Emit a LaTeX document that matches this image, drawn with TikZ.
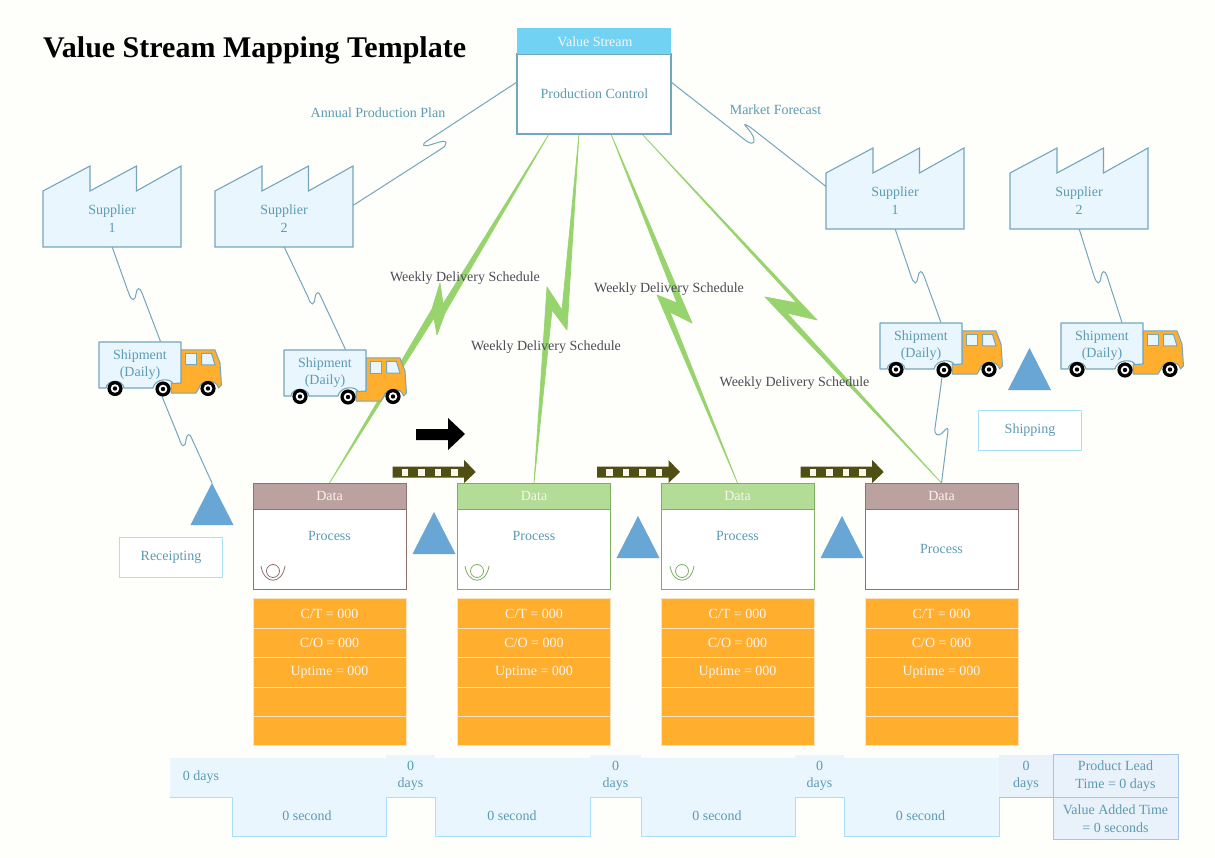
\documentclass[tikz,border=0pt]{standalone}
\usepackage{fontspec}
\setmainfont{Liberation Serif}
\usetikzlibrary{calc,backgrounds}
\definecolor{pagebg}{HTML}{FEFEFA}
\definecolor{txtblue}{HTML}{5C9BB3}
\definecolor{linkblue}{HTML}{74A6BC}
\definecolor{palefill}{HTML}{EAF6FE}
\definecolor{palestroke}{HTML}{A9E0F6}
\definecolor{boltgreen}{HTML}{98D46E}
\definecolor{orangefill}{HTML}{FFAE2E}
\definecolor{orangeline}{HTML}{FFE3C0}
\definecolor{trigblue}{HTML}{68A6D5}
\definecolor{olive}{HTML}{4F4F14}
\definecolor{brownhead}{HTML}{BCA1A1}
\definecolor{brownline}{HTML}{8E7272}
\definecolor{greenhead}{HTML}{B3DC97}
\definecolor{greenline}{HTML}{7FAE60}
\definecolor{sumfill}{HTML}{E9F1FA}
\definecolor{sumline}{HTML}{A5C5E5}
\definecolor{softwhite}{HTML}{FBF5EE}
\definecolor{darklabel}{HTML}{4C4C58}
\tikzset{
  every node/.style={font=\fontsize{14}{17.5}\selectfont,inner sep=0pt,outer sep=0pt,align=center,text=txtblue},
  link/.style={draw=linkblue,line width=1pt},
  bolt/.style={fill=boltgreen,draw=boltgreen,line width=.7pt,line join=round},
  plainbox/.style={draw=palestroke,line width=1pt,fill=white,minimum width=103,minimum height=40},
  factoryshape/.style={fill=palefill,draw=linkblue,line width=1.1pt,line join=miter},
  truckbox/.style={fill=palefill,draw=linkblue,line width=1.1pt,line join=round},
  truckcab/.style={fill=orangefill,draw=linkblue,line width=1pt,line join=round},
  truckwin/.style={fill=palefill,draw=linkblue,line width=1pt},
  cell/.style={fill=orangefill,draw=orangeline,line width=.9pt,minimum width=153,minimum height=29.4,text=softwhite},
  tlblock/.style={fill=palefill,draw=none},
  stepline/.style={draw=palestroke,line width=1pt},
  sumbox/.style={fill=sumfill,draw=sumline,line width=1pt,minimum width=125,minimum height=42.5},
  weekly/.style={text=darklabel},
  tricolor/.style={fill=trigblue},
  oliveshape/.style={fill=olive},
}
% factory: name, left x, shoulder-top y, label
\newcommand\vsmFactory[4]{%
  \begin{scope}[shift={(#2,#3)}]
    \filldraw[factoryshape] (0,25) -- (47,0) -- (47,25) -- (93.5,0) -- (93.5,25) -- (138,0) -- (138,81) -- (0,81) -- cycle;
    \node[minimum width=138,minimum height=56] (#1) at (69,52.5) {#4};
  \end{scope}}
% truck: name, x, y
\newcommand\vsmTruck[3]{%
  \begin{scope}[shift={(#2,#3)}]
    \filldraw[truckcab] (82,8) -- (116,8) -- (121,21) -- (122.5,43) -- (119.5,46)
       .. controls (118,37) and (102,37) .. (100,46) -- (97,51) -- (72,51) -- (72,41) -- (82,41) -- cycle;
    \filldraw[truckwin] (86,11.5) rectangle (97.5,23);
    \filldraw[truckwin] (102.5,11.5) -- (112.5,11.5) -- (116,23) -- (102.5,23) -- cycle;
    \filldraw[truckbox] (0,0) -- (82,0) -- (82,41) -- (74,41.5) .. controls (72,36) and (56,36) .. (54,46)
       -- (25,46) .. controls (24,37) and (8,37) .. (7,46) -- (0,46) -- cycle;
    \node[minimum width=82,minimum height=46] (#1) at (41,22.5) {Shipment\\(Daily)};
    \foreach \wx/\wy in {16/46.5,64/47,109/46.5}{
      \fill[black] (\wx,\wy) circle[radius=7.6pt];
      \fill[white] (\wx,\wy) circle[radius=4.3pt];
      \fill[black] (\wx,\wy) circle[radius=2.2pt];
    }
  \end{scope}}
% process: index, left x, head colour, line colour, process text y
\newcommand\vsmProcess[5]{%
  \node[fill=#3,draw=#4,line width=1pt,minimum width=153,minimum height=26,text=softwhite] (d#1) at (#2+76.5,496) {Data};
  \node[fill=white,draw=#4,line width=1pt,minimum width=153,minimum height=80] (p#1) at (#2+76.5,549) {};
  \node (pt#1) at (#2+76.5,#5) {Process};
  \node[cell] (ca#1) at (#2+76.5,613.5) {C/T = 000};
  \node[cell] (cb#1) at (#2+76.5,643) {C/O = 000};
  \node[cell] (cc#1) at (#2+76.5,672.5) {Uptime = 000};
  \node[cell] (cd#1) at (#2+76.5,702) {};
  \node[cell] (ce#1) at (#2+76.5,731) {};}
% operator icon
\newcommand\vsmOperator[2]{%
  \draw[draw=#2,line width=.8pt] (#1,571) circle[radius=6.5pt];
  \draw[draw=#2,line width=.8pt] (#1-12,566) .. controls (#1-9,585) and (#1+9,585) .. (#1+12,566);}
% triangle: name, apex x, apex y
\newcommand\vsmTri[3]{%
  \coordinate (#1) at (#2,#3);
  \fill[tricolor] (#1) -- ++(-21.5,42) -- ++(43,0) -- cycle;}
% striped push arrow: left x
\newcommand\vsmPush[1]{%
  \begin{scope}[shift={(#1,0)}]
    \fill[oliveshape] (0,466.7) -- (71.5,466.7) -- (71.5,460) -- (83,472) -- (71.5,483) -- (71.5,477.7) -- (0,477.7) -- cycle;
    \foreach \sx in {9,25.5,42,58.5}{\fill[softwhite] (\sx,468.5) rectangle (\sx+6.5,476);}
  \end{scope}}
\begin{document}
\begin{tikzpicture}[x=1pt,y=-1pt]
\useasboundingbox (0,0) rectangle (1215,858);
\begin{scope}[on background layer]
  \fill[pagebg] (0,0) rectangle (1215,858);
\end{scope}

\node[anchor=west,text=black,font=\bfseries\fontsize{30}{36}\selectfont] (title) at (43,50) {Value Stream Mapping Template};

% production control
\node[fill=white,draw=linkblue,line width=1.1pt,minimum width=154,minimum height=80] (pc) at (594,94) {};
\node[fill=white,fill opacity=0,text opacity=1] (pctext) at (594.5,93.5) {Production Control};
\node[fill=palestroke!40!cyan!50!blue!0,fill=white!0,minimum width=0] at (594,41) {} ;
\fill[color={rgb,255:red,114;green,210;blue,244}] (517,28) rectangle (671,54);
\node[text=softwhite] (vs) at (595,41.5) {Value Stream};

% factories
\vsmFactory{supa}{43}{166}{Supplier\\1}
\vsmFactory{supb}{215}{166}{Supplier\\2}
\vsmFactory{supc}{826}{148}{Supplier\\1}
\vsmFactory{supd}{1010}{148}{Supplier\\2}

% trucks
\vsmTruck{ta}{99}{342}
\vsmTruck{tb}{284}{350}
\vsmTruck{tc}{880}{323}
\vsmTruck{td}{1061}{323}

% processes
\vsmProcess{1}{253}{brownhead}{brownline}{536}
\vsmProcess{2}{457.5}{greenhead}{greenline}{536}
\vsmProcess{3}{661}{greenhead}{greenline}{536}
\vsmProcess{4}{865}{brownhead}{brownline}{549}
\vsmOperator{273}{brownline}
\vsmOperator{477}{greenline}
\vsmOperator{682}{greenline}

% triangles
\vsmTri{tra}{212}{483}
\vsmTri{trb}{434}{512}
\vsmTri{trc}{638}{516}
\vsmTri{trd}{842}{516}
\vsmTri{tre}{1029.5}{348}

\node[plainbox] (recv) at (171,557) {Receipting};
\node[plainbox] (ship) at (1030,430.5) {Shipping};

% connectors and bolts behind the shapes
\begin{scope}[on background layer]
  \filldraw[bolt] ($(pc.south)+(-45,0)$) -- (445,313) -- (437,335) -- (434,318) -- (d1.north) -- (432,309) -- (440,283) -- (443,304) -- cycle;
  \filldraw[bolt] ($(pc.south)+(-15,0)$) -- (567,330) -- (552,310) -- (d2.north) -- (547,287) -- (562,310) -- cycle;
  \filldraw[bolt] ($(pc.south)+(17,0)$) -- (692,323) -- (670,312) -- (d3.north) -- (657,295) -- (677,303) -- cycle;
  \filldraw[bolt] ($(pc.south)+(48,0)$) -- (817,320) -- (787,313) -- (d4.north) -- (765,297) -- (797,303) -- cycle;

  \draw[link] (supa.south) -- (129,294) .. controls (132,302) and (135,301) .. (136,294) .. controls (137,287) and (140,287) .. (142,293) -- ($(ta.north)+(20.5,0)$);
  \draw[link] (supb.south) -- (308,297) .. controls (311,306) and (314,306) .. (315,298) .. controls (316,291) and (319,291) .. (321,297) -- ($(tb.north)+(20.5,0)$);
  \draw[link] ($(ta.south)+(22,9)$) -- (179,438) .. controls (182,448) and (185,448) .. (186,440) .. controls (187,433) and (190,433) .. (192,439) -- (tra);
  \draw[link] (pc.west |- 0,82) -- (427,141) .. controls (421,145) and (423,147) .. (430,145) .. controls (436,143) and (447,139) .. (446,143) .. controls (446,146) and (444,147) .. (441,149) -- ($(supb.east)+(0,-13)$);
  \draw[link] (pc.east |- 0,82) -- (745,140) .. controls (750,144) and (755,145) .. (754,139) .. controls (753,133) and (743,124) .. (745,124.5) .. controls (746,125) and (748,125.5) .. (750,127) -- ($(supc.west)+(0,-14)$);
  \draw[link] (supc.south) -- (911,276) .. controls (914,285) and (917,285) .. (918,277) .. controls (919,270) and (922,270) .. (924,276) -- ($(tc.north)+(20,0)$);
  \draw[link] (supd.south) -- (1094,276) .. controls (1097,285) and (1100,285) .. (1101,277) .. controls (1102,270) and (1105,270) .. (1107,276) -- ($(td.north)+(20,0)$);
  \draw[link] ($(tc.south)+(21,9)$) -- (935,428) .. controls (934,435) and (938,436) .. (941,434) .. controls (945,431) and (948,425) .. (948,431) -- (d4.north);
\end{scope}

% labels
\node (lapp) at (378,112.5) {Annual Production Plan};
\node (lmkt) at (775.5,110) {Market Forecast};
\node[weekly] (wa) at (465,278) {Weekly Delivery Schedule};
\node[weekly] (wb) at (546,347) {Weekly Delivery Schedule};
\node[weekly] (wc) at (669,289) {Weekly Delivery Schedule};
\node[weekly] (wd) at (794.5,383.5) {Weekly Delivery Schedule};

% black arrow
\fill[black] (416,429) -- (448,429) -- (448,418) -- (465,434) -- (448,450) -- (448,440) -- (416,440) -- cycle;
% push arrows
\vsmPush{392.7}
\vsmPush{597}
\vsmPush{800.7}

% timeline
\node[tlblock,minimum width=62,minimum height=39] (dya) at (201,777.5) {0 days};
\node[tlblock,minimum width=154,minimum height=78] (sca) at (309,797) {};
\node[tlblock,minimum width=49,minimum height=42] (dyb) at (410.5,776) {0\\days};
\node[tlblock,minimum width=155,minimum height=78] (scb) at (512.5,797) {};
\node[tlblock,minimum width=51,minimum height=42] (dyc) at (615.5,776) {0\\days};
\node[tlblock,minimum width=154,minimum height=78] (scc) at (718,797) {};
\node[tlblock,minimum width=49,minimum height=42] (dyd) at (819.5,776) {0\\days};
\node[tlblock,minimum width=155,minimum height=78] (scd) at (921.5,797) {};
\node[fill=sumfill,minimum width=54,minimum height=42] (dye) at (1026,776) {0\\days};
\node (sta) at (307,816) {0 second};
\node (stb) at (512,816) {0 second};
\node (stc) at (717,816) {0 second};
\node (std) at (920.5,816) {0 second};
\draw[stepline] (dya.south west) -- (dya.south east) -- (sca.south west) -- (sca.south east) -- (dyb.south west) -- (dyb.south east) -- (scb.south west) -- (scb.south east) -- (dyc.south west) -- (dyc.south east) -- (scc.south west) -- (scc.south east) -- (dyd.south west) -- (dyd.south east) -- (scd.south west) -- (scd.south east) -- (dye.south west);
\draw[draw=sumline,line width=1pt] (dye.south west) -- (dye.south east);
\node[sumbox] (suma) at (1115.5,776) {Product Lead\\Time = 0 days};
\node[sumbox] (sumb) at (1115.5,818.5) {Value Added Time\\= 0 seconds};
\end{tikzpicture}
\end{document}
